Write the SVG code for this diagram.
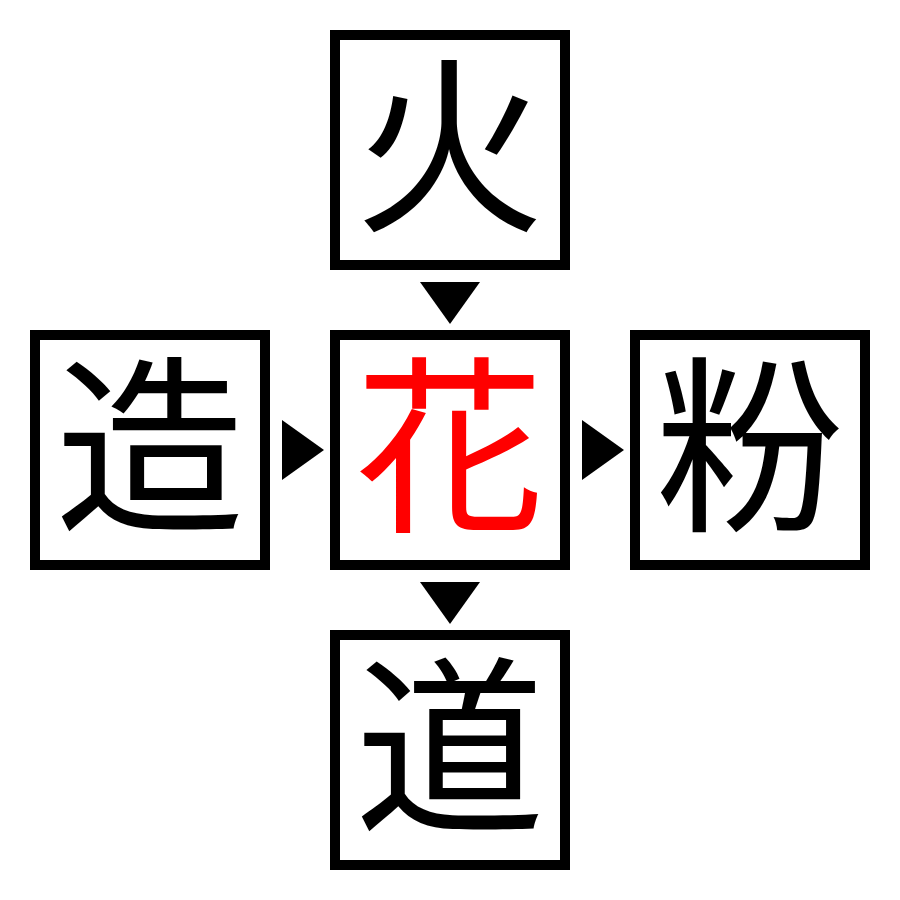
<svg xmlns="http://www.w3.org/2000/svg" width="900" height="900" viewBox="0 0 900 900">
<style>
.box{fill:#fff;stroke:#000;stroke-width:10}
.ch{font-family:"Liberation Serif","Noto Sans CJK JP",serif;font-size:190px;text-anchor:middle;fill:#000}
.red{fill:#ff0000}
.arr{fill:#000}
</style>
<rect width="900" height="900" fill="#fff"/>
<g id="node-top"><rect class="box" x="335" y="35" width="230" height="230"/><text class="ch" x="450" y="217">火</text></g>
<g id="node-left"><rect class="box" x="35" y="335" width="230" height="230"/><text class="ch" x="150" y="517">造</text></g>
<g id="node-center"><rect class="box" x="335" y="335" width="230" height="230"/><text class="ch red" x="450" y="517">花</text></g>
<g id="node-right"><rect class="box" x="635" y="335" width="230" height="230"/><text class="ch" x="750" y="517">粉</text></g>
<g id="node-bottom"><rect class="box" x="335" y="635" width="230" height="230"/><text class="ch" x="450" y="817">道</text></g>
<g id="connectors">
<polygon class="arr" points="420,282 480,282 450,324"/>
<polygon class="arr" points="420,582 480,582 450,624"/>
<polygon class="arr" points="282,420 282,480 324,450"/>
<polygon class="arr" points="582,420 582,480 624,450"/>
</g>
</svg>
